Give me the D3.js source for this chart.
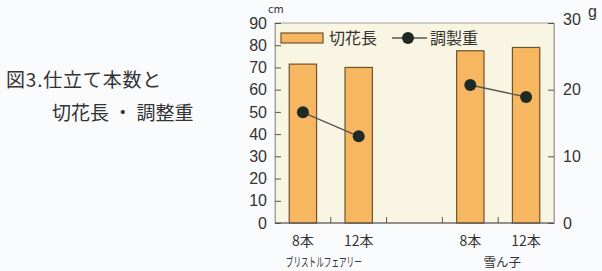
<!DOCTYPE html>
<html>
<head>
<meta charset="utf-8">
<script src="https://cdn.jsdelivr.net/npm/d3@7"></script>
<style>
  body { margin: 0; background: #fafbfd; }
  svg { display: block; font-family: "Noto Sans CJK JP", "Noto Sans", sans-serif; }
</style>
</head>
<body>
<svg id="chart"></svg>
<script>
// data
var slots = ['b8', 'b12', 'gap', 'y8', 'y12'];
var barLabels = ['8本', '12本', '', '8本', '12本'];
var lengthCm = [71.5, 70, null, 77.5, 79];   // 切花長 (left axis)
var weightG = [16.6, 13, null, 20.7, 18.9];   // 調製重 (right axis)
var groups = [
  { name: 'ブリストルフェアリー', from: 'b8', to: 'b12' },
  { name: '雪ん子', from: 'y8', to: 'y12' }
];
var leftTicks = [0, 10, 20, 30, 40, 50, 60, 70, 80, 90];
var rightTicks = [0, 10, 20, 30];

var width = 602, height = 271;
var margin = { left: 275, right: 48, top: 23, bottom: 48 };
var ink = '#333';

var svg = d3.select('#chart').attr('width', width).attr('height', height);

// title
svg.append('text').attr('x', 6).attr('y', 87)
    .attr('font-size', 19).attr('letter-spacing', 0.8).attr('fill', ink).text('図3.仕立て本数と');
svg.append('text').attr('x', 52).attr('y', 120)
    .attr('font-size', 19).attr('fill', ink).text('切花長 ・ 調整重');

var x = d3.scaleBand().domain(slots)
    .range([margin.left, width - margin.right]).paddingInner(0).paddingOuter(0);
var yL = d3.scaleLinear().domain([0, 90]).range([height - margin.bottom, margin.top]);
var yR = d3.scaleLinear().domain([0, 30]).range([height - margin.bottom, margin.top]);

// plot background
svg.append('rect')
    .attr('x', x.range()[0]).attr('y', yL(90))
    .attr('width', x.range()[1] - x.range()[0]).attr('height', yL(0) - yL(90))
    .attr('fill', '#f8f5e2').attr('stroke', '#aaa29a').attr('stroke-width', 1);

// bars
var barW = x.bandwidth() * 0.49;
svg.append('g').selectAll('rect')
    .data(slots.map((s, i) => ({ s: s, v: lengthCm[i] })).filter(d => d.v != null))
    .join('rect')
    .attr('x', d => x(d.s) + (x.bandwidth() - barW) / 2)
    .attr('y', d => yL(d.v))
    .attr('width', barW)
    .attr('height', d => yL(0) - yL(d.v))
    .attr('fill', '#f6b760').attr('stroke', '#6f5230').attr('stroke-width', 1.2);

// axes
var axL = svg.append('g').attr('transform', `translate(${margin.left},0)`)
    .call(d3.axisLeft(yL).tickValues(leftTicks).tickSizeInner(-6).tickSizeOuter(0).tickPadding(8));
var axR = svg.append('g').attr('transform', `translate(${width - margin.right},0)`)
    .call(d3.axisRight(yR).tickValues(rightTicks).tickSizeInner(-6).tickSizeOuter(0).tickPadding(9));
[axL, axR].forEach(a => {
  a.select('.domain').attr('stroke', '#aaa29a');
  a.selectAll('.tick line').attr('stroke', '#555');
  a.selectAll('.tick text').attr('font-size', 16).attr('fill', ink)
      .attr('font-family', 'Liberation Sans, Arial, sans-serif');
});
axR.selectAll('.tick text').filter(d => d === 30).attr('dy', '0.1em');

// x axis line and dividers
var axB = svg.append('g').attr('transform', `translate(0,${yL(0)})`);
axB.append('line').attr('x1', x.range()[0]).attr('x2', x.range()[1])
    .attr('stroke', '#555').attr('stroke-width', 1.2);
axB.selectAll('.div').data(slots.slice(1)).join('line')
    .attr('x1', d => x(d)).attr('x2', d => x(d))
    .attr('y1', 0).attr('y2', -6).attr('stroke', '#555');

// category labels
svg.append('g').selectAll('text')
    .data(slots.map((s, i) => ({ s: s, t: barLabels[i] })).filter(d => d.t))
    .join('text')
    .attr('x', d => x(d.s) + x.bandwidth() / 2).attr('y', 246)
    .attr('text-anchor', 'middle').attr('font-size', 14).attr('fill', ink)
    .text(d => d.t);
svg.append('g').selectAll('text').data(groups).join('text')
    .attr('x', d => (x(d.from) + x(d.to) + x.bandwidth()) / 2 + (d.name.length > 5 ? -7 : 4))
    .attr('y', 267).attr('text-anchor', 'middle')
    .attr('font-size', 12.5).attr('fill', ink)
    .attr('textLength', d => d.name.length > 5 ? 76 : null)
    .attr('lengthAdjust', 'spacingAndGlyphs')
    .text(d => d.name);

// weight lines (one per variety) and points
groups.forEach(g => {
  var idx = [slots.indexOf(g.from), slots.indexOf(g.to)];
  var pts = idx.map(i => ({ s: slots[i], v: weightG[i] }));
  svg.append('path').datum(pts)
      .attr('d', d3.line().x(d => x(d.s) + x.bandwidth() / 2).y(d => yR(d.v)))
      .attr('fill', 'none').attr('stroke', '#555').attr('stroke-width', 1.3);
  svg.append('g').selectAll('circle').data(pts).join('circle')
      .attr('cx', d => x(d.s) + x.bandwidth() / 2).attr('cy', d => yR(d.v))
      .attr('r', 6).attr('fill', '#1e2a24');
});

// units
svg.append('text').attr('x', 268).attr('y', 13).attr('font-size', 11).attr('fill', ink).text('cm');
svg.append('text').attr('x', 588).attr('y', 17).attr('font-size', 16).attr('fill', ink)
    .attr('font-family', 'Liberation Sans, Arial, sans-serif').text('g');

// legend
var lg = svg.append('g');
lg.append('rect').attr('x', 281).attr('y', 33).attr('width', 42).attr('height', 10)
    .attr('fill', '#f6b760').attr('stroke', '#6f5230').attr('stroke-width', 1.2);
lg.append('text').attr('x', 329).attr('y', 44).attr('font-size', 16).attr('fill', ink).text('切花長');
lg.append('line').attr('x1', 392).attr('x2', 427).attr('y1', 38).attr('y2', 38)
    .attr('stroke', '#555').attr('stroke-width', 1.3);
lg.append('circle').attr('cx', 408).attr('cy', 38).attr('r', 6).attr('fill', '#1e2a24');
lg.append('text').attr('x', 430).attr('y', 44).attr('font-size', 16).attr('fill', ink).text('調製重');
</script>
</body>
</html>
